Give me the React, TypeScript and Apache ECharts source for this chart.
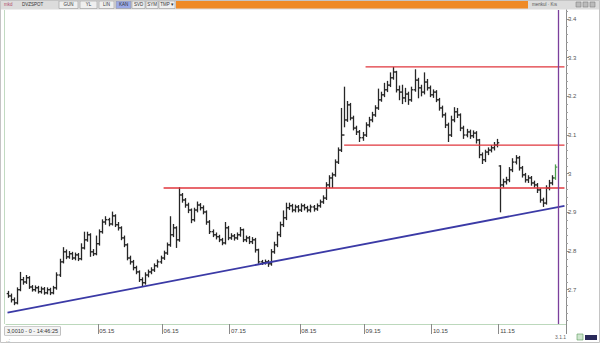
import React, { useEffect, useRef } from "react";
import * as echarts from "echarts";

// ---- data ----
const START_DATE = "2015-03-20";
const CATEGORY_COUNT = 183; // trading days shown on the axis (data + empty slots on the right)

const opens = [
  2.690, 2.684, 2.674, 2.666, 2.700, 2.726, 2.720, 2.731, 2.707, 2.700,
  2.705, 2.695, 2.702, 2.692, 2.700, 2.692, 2.705, 2.738, 2.772, 2.798,
  2.785, 2.793, 2.782, 2.790, 2.780, 2.808, 2.829, 2.842, 2.798, 2.793,
  2.819, 2.850, 2.875, 2.881, 2.870, 2.891, 2.868, 2.860, 2.834, 2.816,
  2.782, 2.772, 2.757, 2.746, 2.726, 2.718, 2.738, 2.746, 2.751, 2.762,
  2.772, 2.782, 2.795, 2.816, 2.842, 2.860, 2.829, 2.945, 2.932, 2.919,
  2.906, 2.881, 2.906, 2.919, 2.912, 2.901, 2.875, 2.850, 2.842, 2.837,
  2.829, 2.821, 2.860, 2.834, 2.839, 2.834, 2.842, 2.855, 2.829, 2.834,
  2.824, 2.829, 2.803, 2.772, 2.770, 2.772, 2.767, 2.798, 2.816, 2.842,
  2.868, 2.886, 2.912, 2.917, 2.906, 2.914, 2.906, 2.917, 2.912, 2.906,
  2.914, 2.909, 2.917, 2.927, 2.937, 2.971, 2.989, 2.997, 3.030, 3.061,
  3.100, 3.139, 3.178, 3.144, 3.118, 3.108, 3.093, 3.100, 3.126, 3.139,
  3.152, 3.170, 3.191, 3.204, 3.217, 3.229, 3.248, 3.263, 3.217, 3.211,
  3.196, 3.206, 3.191, 3.217, 3.242, 3.222, 3.211, 3.237, 3.222, 3.204,
  3.211, 3.191, 3.170, 3.152, 3.126, 3.100, 3.139, 3.160, 3.152, 3.118,
  3.100, 3.108, 3.098, 3.105, 3.087, 3.049, 3.036, 3.056, 3.061, 3.067,
  3.074, 3.020, 2.971, 2.979, 2.984, 3.010, 3.030, 3.041, 3.015, 2.997,
  2.984, 2.989, 2.976, 2.971, 2.958, 2.932, 2.924, 2.963, 2.976, 2.989,
];

const highs = [
  2.697, 2.690, 2.680, 2.706, 2.746, 2.733, 2.738, 2.735, 2.712, 2.711,
  2.710, 2.708, 2.707, 2.706, 2.705, 2.710, 2.745, 2.780, 2.810, 2.804,
  2.800, 2.798, 2.796, 2.795, 2.820, 2.850, 2.850, 2.846, 2.805, 2.840,
  2.856, 2.882, 2.890, 2.886, 2.902, 2.895, 2.875, 2.864, 2.840, 2.820,
  2.788, 2.777, 2.762, 2.750, 2.732, 2.745, 2.752, 2.758, 2.768, 2.778,
  2.788, 2.801, 2.822, 2.890, 2.870, 2.864, 2.965, 2.950, 2.937, 2.925,
  2.910, 2.912, 2.928, 2.924, 2.918, 2.905, 2.880, 2.856, 2.848, 2.842,
  2.834, 2.875, 2.865, 2.846, 2.844, 2.848, 2.862, 2.858, 2.840, 2.839,
  2.836, 2.834, 2.806, 2.777, 2.778, 2.777, 2.805, 2.824, 2.850, 2.876,
  2.905, 2.925, 2.925, 2.922, 2.920, 2.919, 2.923, 2.922, 2.917, 2.920,
  2.919, 2.923, 2.933, 2.944, 2.978, 2.996, 3.003, 3.037, 3.068, 3.170,
  3.225, 3.188, 3.183, 3.150, 3.124, 3.113, 3.108, 3.133, 3.147, 3.160,
  3.177, 3.220, 3.212, 3.235, 3.240, 3.262, 3.276, 3.266, 3.228, 3.230,
  3.222, 3.212, 3.225, 3.270, 3.248, 3.230, 3.262, 3.245, 3.228, 3.218,
  3.216, 3.196, 3.176, 3.158, 3.132, 3.150, 3.172, 3.170, 3.156, 3.124,
  3.116, 3.114, 3.112, 3.110, 3.090, 3.055, 3.062, 3.068, 3.074, 3.082,
  3.090, 3.022, 2.987, 2.992, 3.017, 3.040, 3.048, 3.046, 3.020, 3.002,
  2.996, 2.994, 2.982, 2.976, 2.962, 2.938, 2.970, 2.984, 2.996, 3.024,
];

const lows = [
  2.679, 2.667, 2.660, 2.662, 2.696, 2.713, 2.715, 2.702, 2.695, 2.695,
  2.690, 2.690, 2.687, 2.688, 2.686, 2.688, 2.700, 2.733, 2.768, 2.779,
  2.780, 2.777, 2.776, 2.774, 2.776, 2.804, 2.824, 2.785, 2.787, 2.789,
  2.814, 2.845, 2.868, 2.864, 2.866, 2.862, 2.853, 2.828, 2.810, 2.776,
  2.765, 2.750, 2.740, 2.720, 2.707, 2.713, 2.732, 2.740, 2.746, 2.757,
  2.767, 2.777, 2.790, 2.811, 2.836, 2.808, 2.824, 2.925, 2.912, 2.898,
  2.872, 2.876, 2.900, 2.905, 2.895, 2.868, 2.844, 2.836, 2.830, 2.823,
  2.815, 2.817, 2.828, 2.829, 2.827, 2.829, 2.837, 2.823, 2.823, 2.818,
  2.818, 2.796, 2.767, 2.764, 2.765, 2.759, 2.762, 2.793, 2.810, 2.836,
  2.862, 2.880, 2.906, 2.900, 2.900, 2.900, 2.901, 2.905, 2.900, 2.900,
  2.902, 2.904, 2.912, 2.922, 2.932, 2.963, 2.963, 2.992, 3.025, 3.056,
  3.120, 3.134, 3.138, 3.112, 3.100, 3.082, 3.085, 3.095, 3.120, 3.133,
  3.147, 3.165, 3.186, 3.198, 3.211, 3.224, 3.243, 3.210, 3.190, 3.180,
  3.185, 3.178, 3.186, 3.212, 3.195, 3.200, 3.205, 3.215, 3.198, 3.196,
  3.185, 3.163, 3.145, 3.118, 3.082, 3.095, 3.133, 3.144, 3.110, 3.090,
  3.094, 3.090, 3.092, 3.078, 3.040, 3.025, 3.030, 3.048, 3.055, 3.060,
  3.068, 2.900, 2.964, 2.972, 2.978, 3.004, 3.024, 3.008, 2.990, 2.977,
  2.976, 2.969, 2.964, 2.950, 2.925, 2.914, 2.920, 2.957, 2.970, 2.984,
];

const closes = [
  2.684, 2.674, 2.666, 2.700, 2.726, 2.720, 2.731, 2.707, 2.700, 2.705,
  2.695, 2.702, 2.692, 2.700, 2.692, 2.705, 2.738, 2.772, 2.798, 2.785,
  2.793, 2.782, 2.790, 2.780, 2.808, 2.829, 2.842, 2.798, 2.793, 2.819,
  2.850, 2.875, 2.881, 2.870, 2.891, 2.868, 2.860, 2.834, 2.816, 2.782,
  2.772, 2.757, 2.746, 2.726, 2.718, 2.738, 2.746, 2.751, 2.762, 2.772,
  2.782, 2.795, 2.816, 2.842, 2.860, 2.829, 2.945, 2.932, 2.919, 2.906,
  2.881, 2.906, 2.919, 2.912, 2.901, 2.875, 2.850, 2.842, 2.837, 2.829,
  2.821, 2.860, 2.834, 2.839, 2.834, 2.842, 2.855, 2.829, 2.834, 2.824,
  2.829, 2.803, 2.772, 2.770, 2.772, 2.767, 2.798, 2.816, 2.842, 2.868,
  2.886, 2.912, 2.917, 2.906, 2.914, 2.906, 2.917, 2.912, 2.906, 2.914,
  2.909, 2.917, 2.927, 2.937, 2.971, 2.989, 2.997, 3.030, 3.061, 3.100,
  3.139, 3.178, 3.144, 3.118, 3.108, 3.093, 3.100, 3.126, 3.139, 3.152,
  3.170, 3.191, 3.204, 3.217, 3.229, 3.248, 3.263, 3.217, 3.211, 3.196,
  3.206, 3.191, 3.217, 3.242, 3.222, 3.211, 3.237, 3.222, 3.204, 3.211,
  3.191, 3.170, 3.152, 3.126, 3.100, 3.139, 3.160, 3.152, 3.118, 3.100,
  3.108, 3.098, 3.105, 3.087, 3.049, 3.036, 3.056, 3.061, 3.067, 3.074,
  3.080, 2.971, 2.979, 2.984, 3.010, 3.030, 3.041, 3.015, 2.997, 2.984,
  2.989, 2.976, 2.971, 2.958, 2.932, 2.924, 2.963, 2.976, 2.989, 3.017,
];

const monthLabels = ["05.15", "06.15", "07.15", "08.15", "09.15", "10.15", "11.15"];
const yLabelValues = [2.7, 2.8, 2.9, 3.0, 3.1, 3.2, 3.3, 3.4];
const yMinorTickValues = [
  2.62, 2.64, 2.66, 2.68, 2.72, 2.74, 2.76, 2.78, 2.82, 2.84, 2.86, 2.88,
  2.92, 2.94, 2.96, 2.98, 3.02, 3.04, 3.06, 3.08, 3.12, 3.14, 3.16, 3.18,
  3.22, 3.24, 3.26, 3.28, 3.32, 3.34, 3.36, 3.38, 3.42,
];
const Y_MIN = 2.6113;
const Y_MAX = 3.4233;

// horizontal resistance / support levels
const levelValues = [3.276, 3.074, 2.963];
const levelStartDates = ["2015-09-01", "2015-08-21", "2015-06-01"];
const levelEndDate = "2015-12-01";
// rising trend line
const trendDates = ["2015-03-20", "2015-12-01"];
const trendValues = [2.641, 2.917];
// vertical cursor
const cursorDate = "2015-11-27";

const toolbarItems = ["GUN", "YL", "LIN", "KAN", "SVD", "SYM", "TMP ▾"];

function buildDates(): string[] {
  const out: string[] = [];
  const d = new Date(START_DATE + "T00:00:00Z");
  while (out.length < CATEGORY_COUNT) {
    const wd = d.getUTCDay();
    if (wd !== 0 && wd !== 6) out.push(d.toISOString().slice(0, 10));
    d.setUTCDate(d.getUTCDate() + 1);
  }
  return out;
}

export default function App() {
  const ref = useRef<HTMLDivElement>(null);

  useEffect(() => {
    document.body.style.margin = "0";
    if (!ref.current) return;
    const chart = echarts.init(ref.current, undefined, { renderer: "svg" });

    const dates = buildDates();
    const fmt = (s: string) => `${s.slice(5, 7)}.${s.slice(2, 4)}`;
    const labelSet = new Set<number>();
    dates.forEach((s, i) => {
      if (i > 0 && s.slice(5, 7) !== dates[i - 1].slice(5, 7) && monthLabels.includes(fmt(s))) {
        labelSet.add(i);
      }
    });

    const ohlc = closes.map((c, i) => [i, opens[i], c, lows[i], highs[i]]);
    const lastIdx = closes.length - 1;

    const levelSeries = levelValues.map((v, k) => ({
      type: "line",
      name: "level" + k,
      data: [
        [levelStartDates[k], v],
        [levelEndDate, v],
      ],
      symbol: "none",
      silent: true,
      lineStyle: { color: "#e0363c", width: 1.3 },
      z: 3,
    }));

    const tiny = "Liberation Sans, Arial, sans-serif";

    const toolbarGraphics: any[] = [];
    const boxX = [59, 80, 99, 116, 132, 146, 159];
    const boxW = [19, 17, 15, 15, 13, 12, 16];
    toolbarItems.forEach((t, k) => {
      toolbarGraphics.push({
        type: "rect",
        shape: { x: boxX[k], y: 1, width: boxW[k], height: 7.5 },
        style: { fill: k === 3 ? "#9aa9e6" : "#efefef", stroke: "#9a9a9a", lineWidth: 0.6 },
      });
      toolbarGraphics.push({
        type: "text",
        x: boxX[k] + boxW[k] / 2,
        y: 4.8,
        style: { text: t, fontSize: 4.5, fill: "#333", align: "center", verticalAlign: "middle", fontFamily: tiny },
      });
    });

    chart.setOption({
      animation: false,
      backgroundColor: "#ffffff",
      grid: { left: 6, right: 34, top: 10, bottom: 19, containLabel: false },
      xAxis: {
        type: "category",
        data: dates,
        boundaryGap: true,
        axisLine: { show: true, lineStyle: { color: "#bcd8bc", width: 1 } },
        axisTick: {
          show: true,
          interval: (i: number) => labelSet.has(i),
          length: 10,
          lineStyle: { color: "#8a8a8a" },
        },
        axisLabel: {
          interval: (i: number) => labelSet.has(i),
          formatter: (v: string) => fmt(v),
          fontSize: 6,
          color: "#444",
          align: "left",
          margin: 4,
          fontFamily: tiny,
        },
        splitLine: { show: false },
      },
      yAxis: [
        {
          type: "value",
          position: "right",
          min: Y_MIN,
          max: Y_MAX,
          axisLine: { show: true, lineStyle: { color: "#8c8c8c" } },
          axisTick: { show: true, customValues: yLabelValues, length: 3, lineStyle: { color: "#8c8c8c" } },
          axisLabel: {
            customValues: yLabelValues,
            formatter: (v: number) => String(Number(v.toFixed(1))),
            fontSize: 6,
            color: "#555",
            margin: 2,
            fontFamily: tiny,
          },
          splitLine: { show: false },
        },
        {
          type: "value",
          position: "right",
          min: Y_MIN,
          max: Y_MAX,
          axisLine: { show: false },
          axisTick: { show: true, customValues: yMinorTickValues, length: 2, lineStyle: { color: "#a0a0a0" } },
          axisLabel: { show: false },
          splitLine: { show: false },
        },
      ],
      series: [
        {
          type: "custom",
          name: "OHLC",
          data: ohlc,
          encode: { x: 0, y: [1, 2, 3, 4] },
          z: 2,
          renderItem: (params: any, api: any) => {
            const idx = api.value(0);
            const o = api.coord([idx, api.value(1)]);
            const c = api.coord([idx, api.value(2)]);
            const l = api.coord([idx, api.value(3)]);
            const h = api.coord([idx, api.value(4)]);
            const x = Math.round(h[0]) + 0.5;
            const color = params.dataIndex === lastIdx ? "#4f9e4f" : "#262626";
            const st = { stroke: color, lineWidth: 1.3 };
            return {
              type: "group",
              children: [
                { type: "line", shape: { x1: x, y1: h[1], x2: x, y2: Math.max(l[1], h[1] + 1) }, style: st },
                { type: "line", shape: { x1: x - 1.8, y1: o[1], x2: x, y2: o[1] }, style: st },
                { type: "line", shape: { x1: x, y1: c[1], x2: x + 1.8, y2: c[1] }, style: st },
              ],
            };
          },
        },
        ...levelSeries,
        {
          type: "line",
          name: "trend",
          data: [
            [trendDates[0], trendValues[0]],
            [trendDates[1], trendValues[1]],
          ],
          symbol: "none",
          silent: true,
          lineStyle: { color: "#3b3aa6", width: 1.8 },
          z: 3,
          markLine: {
            silent: true,
            symbol: ["none", "none"],
            label: { show: false },
            lineStyle: { color: "#7b3f9c", width: 1.3, type: "solid" },
            data: [{ xAxis: cursorDate }],
          },
        },
      ],
      graphic: [
        // window frame
        { type: "rect", shape: { x: 0.5, y: 0.5, width: 599, height: 342 }, style: { fill: "none", stroke: "#c4c4c4", lineWidth: 1 }, z: 1 },
        // toolbar
        { type: "rect", shape: { x: 0, y: 0, width: 600, height: 9.5 }, style: { fill: "#dcdcdc" } },
        { type: "text", x: 4, y: 4.8, style: { text: "mkd", fontSize: 4.5, fill: "#b04a6a", verticalAlign: "middle", fontFamily: tiny } },
        { type: "text", x: 22, y: 4.8, style: { text: "DVZSPOT", fontSize: 4.5, fill: "#333", verticalAlign: "middle", fontFamily: tiny } },
        ...toolbarGraphics,
        { type: "rect", shape: { x: 176, y: 1, width: 352, height: 7.5 }, style: { fill: "#ef8a26" } },
        { type: "text", x: 532, y: 4.8, style: { text: "menkul · Kıs", fontSize: 4.5, fill: "#555", verticalAlign: "middle", fontFamily: tiny } },
        { type: "rect", shape: { x: 576, y: 2, width: 5, height: 5 }, style: { fill: "#bbb", stroke: "#777", lineWidth: 0.5 } },
        { type: "rect", shape: { x: 583, y: 2, width: 5, height: 5 }, style: { fill: "#bbb", stroke: "#777", lineWidth: 0.5 } },
        { type: "rect", shape: { x: 590, y: 2, width: 5, height: 5 }, style: { fill: "#bbb", stroke: "#777", lineWidth: 0.5 } },
        // left plot border
        { type: "line", shape: { x1: 4.5, y1: 10, x2: 4.5, y2: 324 }, style: { stroke: "#c2dac2", lineWidth: 1 } },
        // status box
        {
          type: "text",
          x: 5,
          y: 327,
          style: {
            text: "3,0010 - 0 - 14:46:25",
            fontSize: 5.5,
            fill: "#333",
            fontFamily: tiny,
            borderColor: "#9a9a9a",
            borderWidth: 0.6,
            padding: [1, 2],
            backgroundColor: "#f4f4f4",
          },
        },
        { type: "text", x: 6, y: 337, style: { text: "..:", fontSize: 5, fill: "#666", fontFamily: tiny } },
        { type: "text", x: 555, y: 334, style: { text: "3.1.1", fontSize: 5, fill: "#666", fontFamily: tiny } },
        { type: "rect", shape: { x: 577, y: 334, width: 6, height: 6 }, style: { fill: "#cfe6cf", stroke: "#5a9a5a", lineWidth: 0.6 } },
        { type: "rect", shape: { x: 585, y: 335, width: 12, height: 5 }, style: { fill: "#2a2a5a" } },
      ],
    });

    return () => chart.dispose();
  }, []);

  return <div ref={ref} style={{ position: "fixed", left: 0, top: 0, width: 600, height: 343, background: "#fff" }} />;
}
